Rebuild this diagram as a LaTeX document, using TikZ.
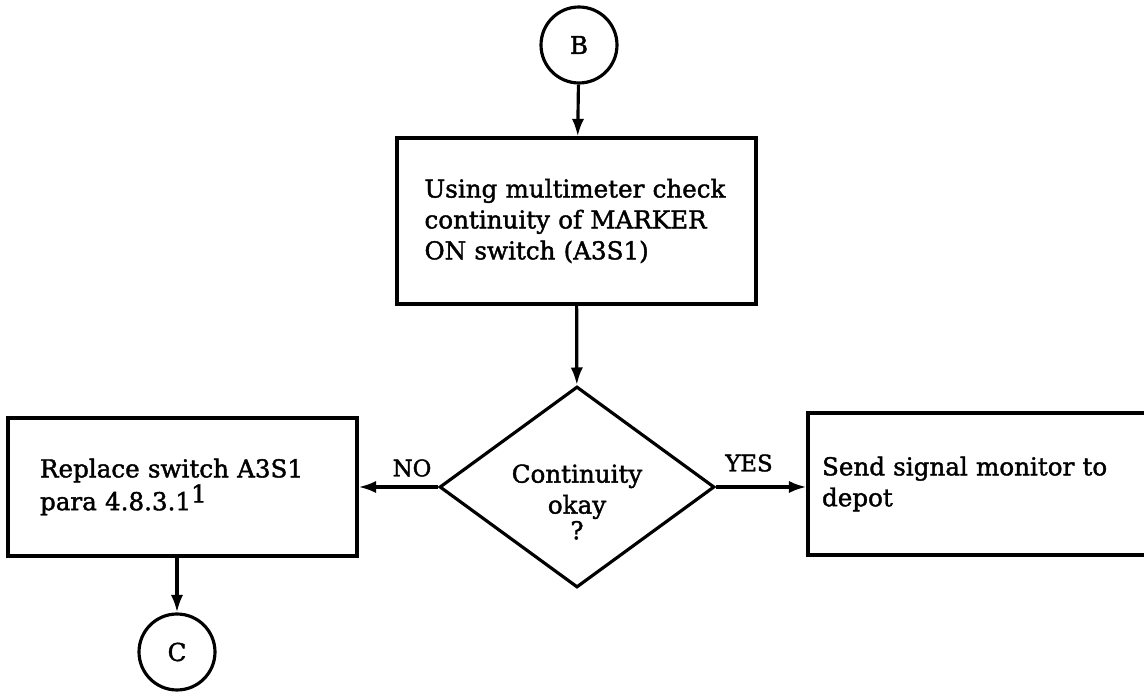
\documentclass[tikz,border=0pt]{standalone}
\usepackage{fontspec}
\newfontfamily\flowfont{DejaVu Serif}[FakeBold=1.6]
\usepackage{tikz}
\usetikzlibrary{positioning, shapes, arrows.meta}

\begin{document}
\begin{tikzpicture}[x=0.02cm, y=-0.02cm, line width=1.8pt,
        every node/.style={font=\fontsize{14}{17.6}\flowfont},
        conn/.style={draw, circle, minimum size=1.52cm, inner sep=0pt},
        stepbox/.style={draw, rectangle, align=left},
        decision/.style={draw, diamond, aspect=1.37, minimum width=5.5cm, minimum height=4.02cm, inner sep=0pt},
        flow/.style={-{Latex[length=10pt, width=7pt]}},
        answer/.style={font=\fontsize{13}{15}\flowfont}]
        \useasboundingbox (0,0) rectangle (1144,692);
        \clip (0,0) rectangle (1144,692);
        % connectors and steps
        \node[conn] (B) at (579,45) {B};
        \node[stepbox, text width=6.08cm, inner xsep=0.55cm, minimum height=3.32cm] (check) at (576.5,221)
            {Using multimeter check\\continuity of MARKER\\ON switch (A3S1)};
        \node[decision, label={[align=center, yshift=-0.3cm]center:Continuity\\okay\\[-3pt]?}] (ok) at (577,487) {};
        \node[stepbox, text width=5.7cm, inner xsep=0.64cm, minimum height=2.76cm] (replace) at (182.5,487)
            {Replace switch A3S1\\para 4.8.3.1\raisebox{0.6ex}{1}};
        \node[stepbox, text width=6.48cm, inner xsep=0.28cm, minimum height=2.84cm] (depot) at (984,484)
            {Send signal monitor to\\depot};
        \node[conn] (C) at (177,652) {C};
        \node[answer] (no) at (412,468) {NO};
        \node[answer] (yes) at (749,463) {YES};
        % flow lines
        \draw[flow] (B) -- (check);
        \draw[flow] (check) -- (ok);
        \draw[flow] (ok.west) -- (ok.west -| replace.east);
        \draw[flow] (ok.east) -- (ok.east -| depot.west);
        \draw[flow] (replace.south -| C.north) -- (C.north);
    \end{tikzpicture}
\end{document}
